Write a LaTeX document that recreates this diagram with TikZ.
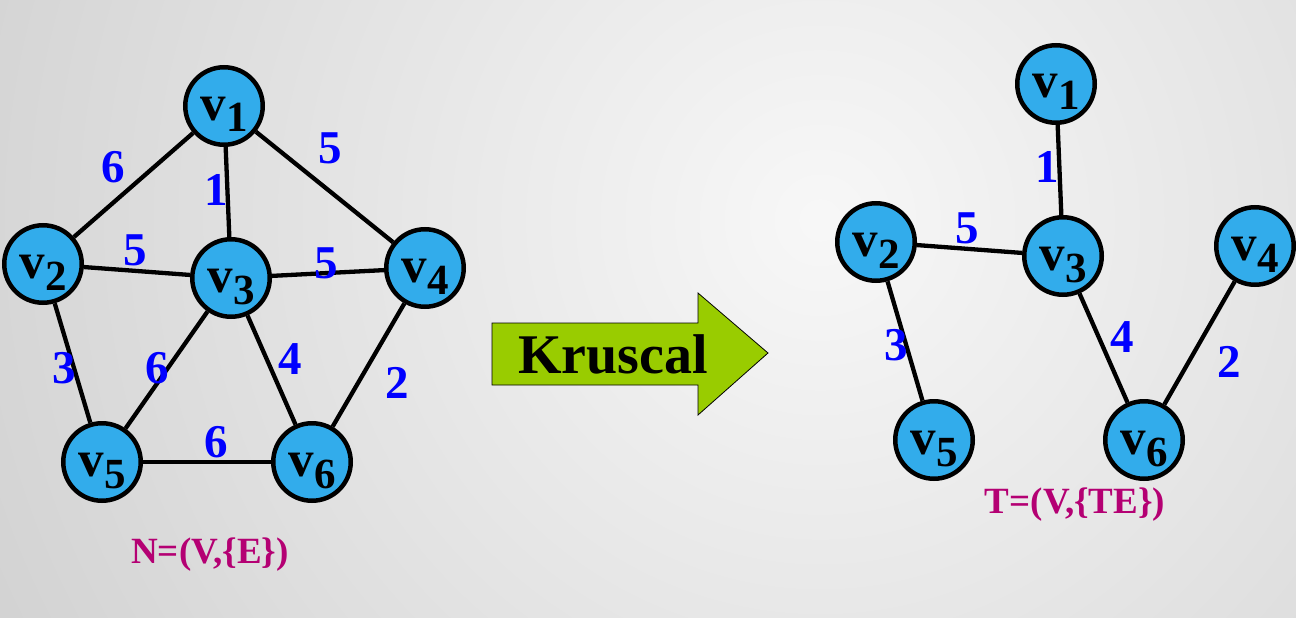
\documentclass[tikz,border=0pt]{standalone}
\usepackage{fontspec}
\setmainfont{Liberation Serif}
\definecolor{nodeblue}{RGB}{50,172,235}
\definecolor{lblblue}{RGB}{0,0,255}
\definecolor{kgreen}{RGB}{153,204,0}
\definecolor{titlemag}{RGB}{180,0,115}
\newcommand{\vlab}[1]{\smash{\raisebox{-14pt}{\fontsize{51}{51}\selectfont v\raisebox{-12pt}{\fontsize{43}{43}\selectfont #1}}}}
\begin{document}
\begin{tikzpicture}[x=1pt,y=-1pt,
  vtx/.style={circle,draw=black,line width=4.5pt,fill=nodeblue,minimum size=77.5pt,inner sep=0pt,font=\bfseries},
  edge/.style={draw=black,line width=4.3pt},
  wt/.style={text=lblblue,font=\bfseries\fontsize{47}{47}\selectfont,inner sep=0pt},
  ttl/.style={text=titlemag,font=\bfseries\fontsize{37}{37}\selectfont,inner sep=0pt,anchor=base}]
\useasboundingbox (0,0) rectangle (1296,618);
\begin{scope}
  \clip (0,0) rectangle (1296,618);
  \shade[inner color=black!3,outer color=black!18] (820,220) circle (950);
\end{scope}
% left graph
\node[vtx] (a1) at (224,106) {\vlab{1}};
\node[vtx] (a2) at (43,264) {\vlab{2}};
\node[vtx] (a3) at (231,278) {\vlab{3}};
\node[vtx] (a4) at (425,268) {\vlab{4}};
\node[vtx] (a5) at (102,462) {\vlab{5}};
\node[vtx] (a6) at (312,462) {\vlab{6}};
\draw[edge] (a1) -- (a2);
\draw[edge] (a1) -- (a3);
\draw[edge] (a1) -- (a4);
\draw[edge] (a2) -- (a3);
\draw[edge] (a3) -- (a4);
\draw[edge] (a2) -- (a5);
\draw[edge] (a3) -- (a5);
\draw[edge] (a3) -- (a6);
\draw[edge] (a4) -- (a6);
\draw[edge] (a5) -- (a6);
\node[wt] (w12) at (113,167) {6};
\node[wt] (w13) at (216,190) {1};
\node[wt] (w14) at (330,148) {5};
\node[wt] (w23) at (135,250) {5};
\node[wt] (w34) at (326,263) {5};
\node[wt] (w25) at (64,368) {3};
\node[wt] (w35) at (157,368) {6};
\node[wt] (w36) at (290,359) {4};
\node[wt] (w46) at (397,383) {2};
\node[wt] (w56) at (216,442) {6};
\node[ttl] (nlab) at (210,563) {N=(V,\{E\})};
% arrow
\draw[fill=kgreen,draw=black,line width=0.8pt] (492,323) -- (698,323) -- (698,293) -- (768,353) -- (698,415) -- (698,385) -- (492,385) -- cycle;
\node[font=\bfseries\fontsize{56}{56}\selectfont,anchor=base,inner sep=0pt] (kr) at (613,373) {Kruscal};
% right graph
\node[vtx] (b1) at (1056,84) {\vlab{1}};
\node[vtx] (b2) at (876,242) {\vlab{2}};
\node[vtx] (b3) at (1063,256) {\vlab{3}};
\node[vtx] (b4) at (1255,246) {\vlab{4}};
\node[vtx] (b5) at (934,440) {\vlab{5}};
\node[vtx] (b6) at (1144,440) {\vlab{6}};
\draw[edge] (b1) -- (b3);
\draw[edge] (b2) -- (b3);
\draw[edge] (b2) -- (b5);
\draw[edge] (b3) -- (b6);
\draw[edge] (b4) -- (b6);
\node[wt] (u13) at (1047,167) {1};
\node[wt] (u23) at (967,228) {5};
\node[wt] (u25) at (896,345) {3};
\node[wt] (u36) at (1122,337) {4};
\node[wt] (u46) at (1229,362) {2};
\node[ttl] (tlab) at (1075,513) {T=(V,\{TE\})};
\end{tikzpicture}
\end{document}
